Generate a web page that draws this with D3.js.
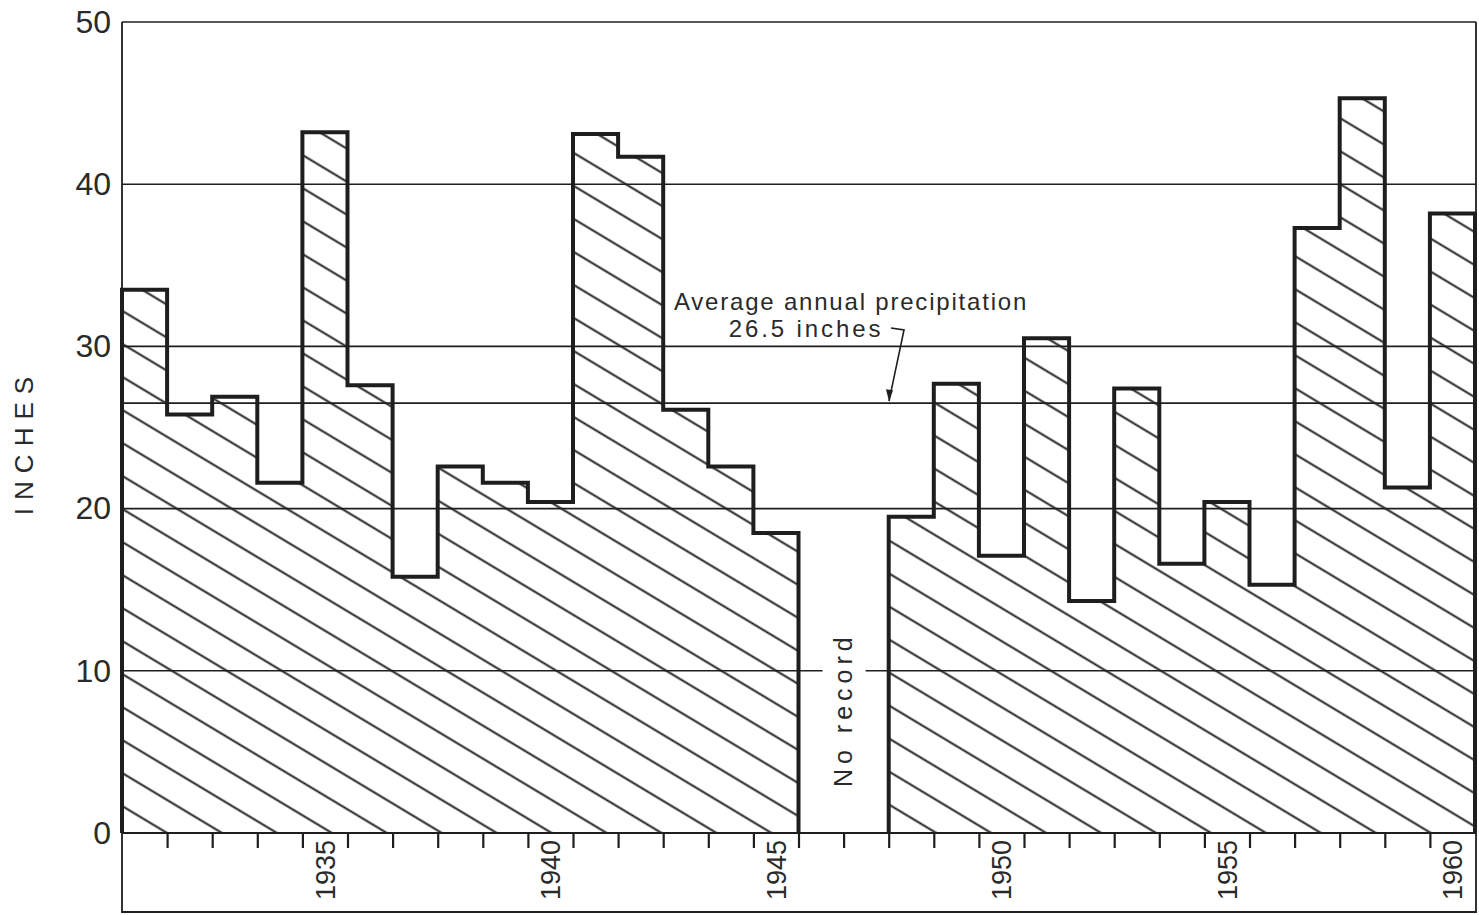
<!DOCTYPE html>
<html>
<head>
<meta charset="utf-8">
<script src="https://cdn.jsdelivr.net/npm/d3@7/dist/d3.min.js"></script>
<style>
  body { margin: 0; background: #fff; }
  text { font-family: "Liberation Sans", Arial, sans-serif; fill: #2a2a2a; }
</style>
</head>
<body>
<svg id="chart"></svg>
<script>
// annual precipitation, inches (null = no record)
var years = [1931, 1932, 1933, 1934, 1935, 1936, 1937, 1938, 1939, 1940,
             1941, 1942, 1943, 1944, 1945, 1946, 1947, 1948, 1949, 1950,
             1951, 1952, 1953, 1954, 1955, 1956, 1957, 1958, 1959, 1960];
var inches = [33.5, 25.8, 26.9, 21.6, 43.2, 27.6, 15.8, 22.6, 21.6, 20.4,
              43.1, 41.7, 26.1, 22.6, 18.5, null, null, 19.5, 27.7, 17.1,
              30.5, 14.3, 27.4, 16.6, 20.4, 15.3, 37.3, 45.3, 21.3, 38.2];
var yTicks = [0, 10, 20, 30, 40, 50];
var yearLabels = [1935, 1940, 1945, 1950, 1955, 1960];
var average = 26.5;

var W = 1479, H = 915;
var mLeft = 122, mRight = 1475, mTop = 22, base = 833, boxBottom = 912;

var svg = d3.select("#chart")
  .attr("width", W)
  .attr("height", H);

var x = d3.scaleLinear()
  .domain([years[0] - 0.5, years[years.length - 1] + 0.5])
  .range([mLeft, mRight]);

var y = d3.scaleLinear()
  .domain([0, 50])
  .range([base, mTop]);

var ink = "#1e1e1e";

// hatch pattern
var hatch = svg.append("defs").append("pattern")
  .attr("id", "hatch")
  .attr("patternUnits", "userSpaceOnUse")
  .attr("width", 400)
  .attr("height", 28.3)
  .attr("patternTransform", "rotate(31)");
hatch.append("line")
  .attr("x1", 0).attr("x2", 400)
  .attr("y1", 5.4).attr("y2", 5.4)
  .attr("stroke", ink)
  .attr("stroke-width", 2);

// split into continuous runs of record
var runs = [], cur = [];
years.forEach(function (yr, i) {
  if (inches[i] == null) {
    if (cur.length) runs.push(cur);
    cur = [];
  } else {
    cur.push({ year: yr, v: inches[i] });
  }
});
if (cur.length) runs.push(cur);

function stepPoints(run) {
  var pts = [[x(run[0].year - 0.5), y(0)]];
  run.forEach(function (d) {
    pts.push([x(d.year - 0.5), y(d.v)]);
    pts.push([x(d.year + 0.5), y(d.v)]);
  });
  pts.push([x(run[run.length - 1].year + 0.5), y(0)]);
  return pts;
}

var line = d3.line();

// hatched area
svg.append("g")
  .selectAll("path")
  .data(runs)
  .join("path")
  .attr("d", function (r) { return line(stepPoints(r)) + "Z"; })
  .attr("fill", "url(#hatch)");

// gridlines
svg.append("g")
  .selectAll("line")
  .data(yTicks.concat([average]))
  .join("line")
  .attr("x1", mLeft)
  .attr("x2", mRight + 1)
  .attr("y1", function (d) { return y(d); })
  .attr("y2", function (d) { return y(d); })
  .attr("stroke", ink)
  .attr("stroke-width", function (d) { return d === 0 ? 2 : 1.6; });

// frame (plot sides + x-axis box)
svg.append("path")
  .attr("d", line([[mLeft, mTop], [mLeft, boxBottom], [mRight + 1, boxBottom], [mRight + 1, mTop]]))
  .attr("fill", "none")
  .attr("stroke", ink)
  .attr("stroke-width", 1.8);

// step outline
svg.append("g")
  .selectAll("path")
  .data(runs)
  .join("path")
  .attr("d", function (r) { return line(stepPoints(r)); })
  .attr("fill", "none")
  .attr("stroke", ink)
  .attr("stroke-width", 4)
  .attr("stroke-linejoin", "miter");

// "No record" with gap in the 10-inch gridline
var gapYear = 1946.5;
svg.append("rect")
  .attr("x", x(gapYear) - 21)
  .attr("y", y(10) - 4)
  .attr("width", 43)
  .attr("height", 8)
  .attr("fill", "#fff");
svg.append("text")
  .attr("transform", "translate(" + x(gapYear) + "," + y(7.6) + ") rotate(-90)")
  .attr("text-anchor", "middle")
  .attr("dy", "0.35em")
  .attr("font-size", 25)
  .attr("letter-spacing", 5)
  .text("No record");

// y-axis labels
var yAxis = svg.append("g")
  .attr("transform", "translate(" + mLeft + ",0)")
  .call(d3.axisLeft(y).tickValues(yTicks).tickSize(0).tickPadding(11));
yAxis.select(".domain").remove();
yAxis.selectAll("text")
  .attr("font-size", 32)
  .attr("font-family", null)
  .attr("fill", null);

svg.append("text")
  .attr("transform", "translate(24," + 442 + ") rotate(-90)")
  .attr("text-anchor", "middle")
  .attr("dy", "0.35em")
  .attr("font-size", 26)
  .attr("letter-spacing", 8)
  .text("INCHES");

// x-axis ticks at year boundaries
var boundaries = years.slice(0, -1).map(function (yr) { return yr + 0.5; });
var xAxis = svg.append("g")
  .attr("transform", "translate(0," + base + ")")
  .call(d3.axisBottom(x).tickValues(boundaries).tickSize(15).tickFormat(""));
xAxis.select(".domain").remove();
xAxis.selectAll("line")
  .attr("stroke", ink)
  .attr("stroke-width", 2.2);

// year labels, rotated
svg.append("g")
  .selectAll("text")
  .data(yearLabels)
  .join("text")
  .attr("transform", function (d) { return "translate(" + x(d) + "," + (base + 7) + ") rotate(-90)"; })
  .attr("text-anchor", "end")
  .attr("dy", "0.36em")
  .attr("font-size", 27)
  .text(function (d) { return d; });

// average annotation
var ay = y(average);
svg.append("text")
  .attr("x", 851)
  .attr("y", 310)
  .attr("text-anchor", "middle")
  .attr("font-size", 24)
  .attr("letter-spacing", 1.8)
  .text("Average annual precipitation");
svg.append("text")
  .attr("x", 806)
  .attr("y", 337)
  .attr("text-anchor", "middle")
  .attr("font-size", 24)
  .attr("letter-spacing", 2.9)
  .text("26.5 inches");
svg.append("path")
  .attr("d", line([[891, 328], [904, 330], [889, ay - 2]]))
  .attr("fill", "none")
  .attr("stroke", ink)
  .attr("stroke-width", 1.6);
svg.append("path")
  .attr("d", line([[886, ay - 14], [893, ay - 13], [889, ay - 2]]) + "Z")
  .attr("fill", ink);
</script>
</body>
</html>
